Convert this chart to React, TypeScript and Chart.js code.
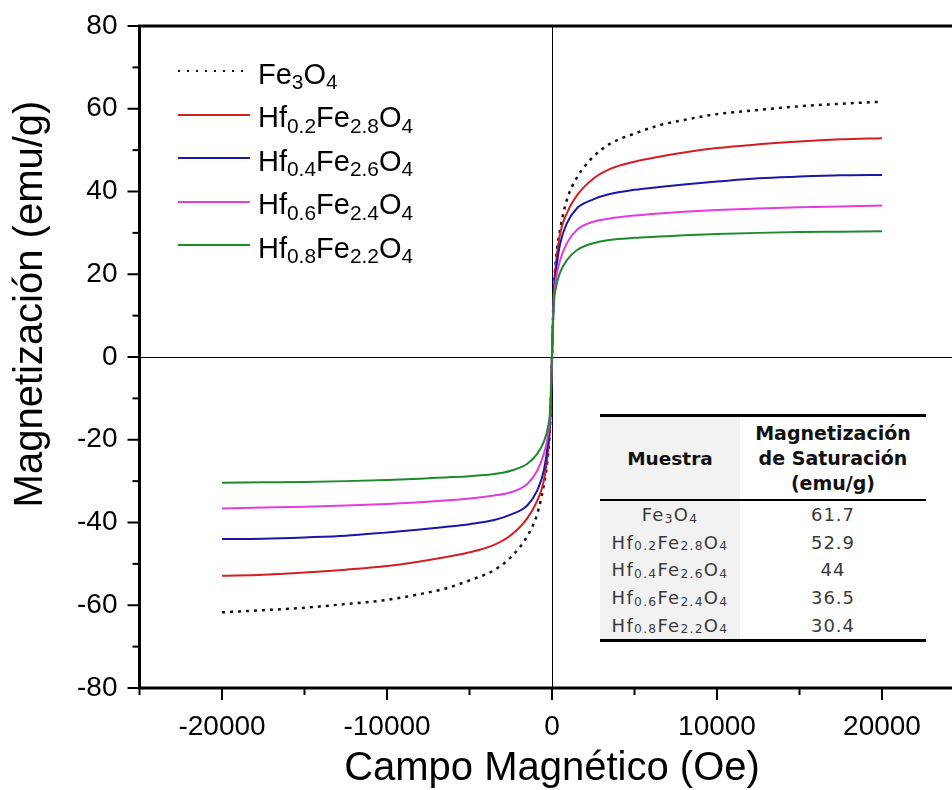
import React, { useEffect, useRef } from 'react';
import { Chart, registerables } from 'chart.js';

Chart.register(...registerables);

// Magnetic field (Oe)
const fieldOe = [
  -20000, -17500, -15000, -12500, -10000, -8000, -6500, -5000, -3500, -2500, -1500, -900, -500, -250, -100,
  0,
  100, 250, 500, 900, 1500, 2500, 3500, 5000, 6500, 8000, 10000, 12500, 15000, 17500, 20000,
];

// Magnetization (emu/g)
const fe3o4 = [
  -61.7, -61.2, -60.6, -59.7, -58.7, -57.3, -56.0, -54.0, -51.5, -48.4, -43.3, -38.0, -31.0, -24.0, -15.0,
  0,
  15.0, 24.0, 31.0, 38.0, 43.3, 48.4, 51.5, 54.0, 56.0, 57.3, 58.7, 59.7, 60.6, 61.2, 61.7,
];
const hf02 = [
  -52.9, -52.6, -52.1, -51.4, -50.5, -49.4, -48.4, -47.2, -45.4, -43.1, -39.0, -34.8, -30.0, -23.0, -15.0,
  0,
  15.0, 23.0, 30.0, 34.8, 39.0, 43.1, 45.4, 47.2, 48.4, 49.4, 50.5, 51.4, 52.1, 52.6, 52.9,
];
const hf04 = [
  -44.0, -43.9, -43.6, -43.2, -42.4, -41.7, -41.1, -40.4, -39.4, -38.1, -35.9, -32.3, -27.5, -21.0, -14.0,
  0,
  14.0, 21.0, 27.5, 32.3, 35.9, 38.1, 39.4, 40.4, 41.1, 41.7, 42.4, 43.2, 43.6, 43.9, 44.0,
];
const hf06 = [
  -36.6, -36.4, -36.2, -35.9, -35.5, -35.1, -34.7, -34.2, -33.5, -32.7, -30.7, -27.5, -23.5, -19.0, -13.0,
  0,
  13.0, 19.0, 23.5, 27.5, 30.7, 32.7, 33.5, 34.2, 34.7, 35.1, 35.5, 35.9, 36.2, 36.4, 36.6,
];
const hf08 = [
  -30.4, -30.3, -30.2, -30.0, -29.7, -29.4, -29.1, -28.8, -28.3, -27.5, -25.8, -23.4, -20.5, -17.0, -12.0,
  0,
  12.0, 17.0, 20.5, 23.4, 25.8, 27.5, 28.3, 28.8, 29.1, 29.4, 29.7, 30.0, 30.2, 30.3, 30.4,
];

const seriesNames = ['Fe3O4', 'Hf0.2Fe2.8O4', 'Hf0.4Fe2.6O4', 'Hf0.6Fe2.4O4', 'Hf0.8Fe2.2O4'];
// formula parts: odd indices are subscripts
const formulaParts = ['Fe|3|O|4', 'Hf|0.2|Fe|2.8|O|4', 'Hf|0.4|Fe|2.6|O|4', 'Hf|0.6|Fe|2.4|O|4', 'Hf|0.8|Fe|2.2|O|4'];
const seriesColors = ['#111111', '#d41e22', '#1a17a6', '#e03ce0', '#1f8a2c'];
const saturationValues = ['61.7', '52.9', '44', '36.5', '30.4'];

const xTickValues = [-20000, -10000, 0, 10000, 20000];
const yTickValues = [-80, -60, -40, -20, 0, 20, 40, 60, 80];
const xMinorStep = 5000;
const yMinorStep = 10;
const xTitle = 'Campo Magnético (Oe)';
const yTitle = 'Magnetización (emu/g)';

const AXIS_FONT = "'Liberation Sans', Arial, sans-serif";
const TABLE_FONT = "'DejaVu Sans', sans-serif";

function Formula({ parts, subSize, subShift }: { parts: string; subSize: string; subShift: string }) {
  return (
    <>
      {parts.split('|').map((p, i) =>
        i % 2 === 1 ? (
          <span key={i} style={{ fontSize: subSize, position: 'relative', top: subShift }}>{p}</span>
        ) : (
          <span key={i}>{p}</span>
        )
      )}
    </>
  );
}

const frameAndTicks = {
  id: 'frameAndTicks',
  afterDraw(chart: any) {
    const { ctx, chartArea: a, scales } = chart;
    const xs = scales.x;
    const ys = scales.y;
    ctx.save();
    ctx.strokeStyle = '#000';
    ctx.lineWidth = 2;
    for (let v = xs.min; v <= xs.max + 1e-6; v += xMinorStep) {
      const px = xs.getPixelForValue(v);
      const len = Math.abs(v % 10000) < 1e-6 ? 12 : 7;
      ctx.beginPath();
      ctx.moveTo(px, a.bottom);
      ctx.lineTo(px, a.bottom + len);
      ctx.stroke();
    }
    for (let v = ys.min; v <= ys.max + 1e-6; v += yMinorStep) {
      const py = ys.getPixelForValue(v);
      const len = Math.abs(v % 20) < 1e-6 ? 12 : 7;
      ctx.beginPath();
      ctx.moveTo(a.left, py);
      ctx.lineTo(a.left - len, py);
      ctx.stroke();
    }
    ctx.lineWidth = 3;
    ctx.strokeRect(a.left, a.top, a.right - a.left, a.bottom - a.top);

    // y-axis title
    ctx.translate(31, 304);
    ctx.rotate(-Math.PI / 2);
    ctx.fillStyle = '#000';
    ctx.font = `40px ${AXIS_FONT}`;
    ctx.textAlign = 'center';
    ctx.textBaseline = 'middle';
    ctx.fillText(yTitle, 0, 0);
    ctx.restore();
  },
};

export default function App() {
  const canvasRef = useRef<HTMLCanvasElement | null>(null);

  useEffect(() => {
    if (!canvasRef.current) return;
    const allSeries = [fe3o4, hf02, hf04, hf06, hf08];
    const datasets = allSeries.map((vals, i) => ({
      label: seriesNames[i],
      data: fieldOe.map((h, k) => ({ x: h, y: vals[k] })),
      borderColor: seriesColors[i],
      backgroundColor: seriesColors[i],
      borderWidth: i === 0 ? 2.5 : 2,
      borderDash: i === 0 ? [3, 5] : [],
      pointRadius: 0,
      cubicInterpolationMode: 'monotone' as const,
      fill: false,
      order: 4 - i,
    }));

    const zeroLine = (c: any) => (c.tick && c.tick.value === 0 ? '#000' : 'rgba(0,0,0,0)');

    const chart = new Chart(canvasRef.current, {
      type: 'line',
      data: { datasets },
      plugins: [frameAndTicks],
      options: {
        animation: false,
        responsive: false,
        maintainAspectRatio: false,
        layout: { padding: { top: 26, right: 15.5, left: 0, bottom: 0 } },
        plugins: { legend: { display: false }, tooltip: { enabled: false } },
        scales: {
          x: {
            type: 'linear',
            min: -25000,
            max: 25000,
            afterBuildTicks: (s: any) => {
              s.ticks = xTickValues.map((v) => ({ value: v }));
            },
            afterFit: (s: any) => {
              s.height = 102;
              s.paddingLeft = 0;
              s.paddingRight = 0;
            },
            grid: { drawTicks: false, color: zeroLine, lineWidth: 1 },
            border: { display: false },
            ticks: {
              padding: 22,
              color: '#000',
              autoSkip: false,
              maxRotation: 0,
              font: { family: AXIS_FONT, size: 28 },
              callback: (v: any) => String(v),
            },
            title: {
              display: true,
              text: xTitle,
              color: '#000',
              font: { family: AXIS_FONT, size: 40, lineHeight: 1 },
              padding: { top: 0, bottom: 1 },
            },
          },
          y: {
            type: 'linear',
            min: -80,
            max: 80,
            afterBuildTicks: (s: any) => {
              s.ticks = yTickValues.map((v) => ({ value: v }));
            },
            afterFit: (s: any) => {
              s.width = 139.5;
              s.paddingTop = 0;
              s.paddingBottom = 0;
            },
            grid: { drawTicks: false, color: zeroLine, lineWidth: 1 },
            border: { display: false },
            ticks: {
              padding: 22,
              color: '#000',
              autoSkip: false,
              font: { family: AXIS_FONT, size: 28 },
              callback: (v: any) => String(v),
            },
            title: { display: false },
          },
        },
      } as any,
    });
    return () => chart.destroy();
  }, []);

  const legendTop = 71;
  const legendStep = 43.5;

  return (
    <div
      style={{
        position: 'absolute',
        left: 0,
        top: 0,
        width: 952,
        height: 790,
        overflow: 'hidden',
        background: '#fff',
      }}
    >
      <canvas ref={canvasRef} width={980} height={790} style={{ display: 'block', width: 980, height: 790 }} />

      {/* Legend */}
      {formulaParts.map((parts, i) => (
        <div
          key={i}
          style={{
            position: 'absolute',
            left: 178,
            top: legendTop + i * legendStep - 20,
            height: 40,
            display: 'flex',
            alignItems: 'center',
            fontFamily: AXIS_FONT,
            fontSize: 29,
            color: '#000',
            whiteSpace: 'nowrap',
          }}
        >
          <svg width={72} height={8} style={{ display: 'block', marginRight: 8 }}>
            <line
              x1={0}
              y1={4}
              x2={72}
              y2={4}
              stroke={seriesColors[i]}
              strokeWidth={2}
              strokeDasharray={i === 0 ? '2 7' : undefined}
            />
          </svg>
          <span style={{ position: 'relative', top: 4, lineHeight: '40px' }}>
            <Formula parts={parts} subSize="0.72em" subShift="0.28em" />
          </span>
        </div>
      ))}

      {/* Inset table */}
      <div
        style={{
          position: 'absolute',
          left: 600,
          top: 414,
          width: 326,
          borderTop: '3px solid #000',
          borderBottom: '3px solid #000',
          fontFamily: TABLE_FONT,
          background: '#fff',
        }}
      >
        <div style={{ display: 'flex', height: 82, borderBottom: '2px solid #000' }}>
          <div
            style={{
              width: 140,
              background: '#f2f2f2',
              display: 'flex',
              alignItems: 'center',
              justifyContent: 'center',
              fontWeight: 'bold',
              fontSize: 18.5,
              color: '#111',
            }}
          >
            Muestra
          </div>
          <div
            style={{
              width: 186,
              display: 'flex',
              flexDirection: 'column',
              alignItems: 'center',
              justifyContent: 'center',
              fontWeight: 'bold',
              fontSize: 19,
              lineHeight: '25px',
              color: '#111',
            }}
          >
            <div>Magnetización</div>
            <div>de Saturación</div>
            <div>(emu/g)</div>
          </div>
        </div>
        {formulaParts.map((parts, i) => (
          <div key={i} style={{ display: 'flex', height: 27.6 }}>
            <div
              style={{
                width: 140,
                background: '#f2f2f2',
                display: 'flex',
                alignItems: 'center',
                justifyContent: 'center',
                fontSize: 18,
                letterSpacing: '1.3px',
                color: '#3a3a3a',
                whiteSpace: 'nowrap',
              }}
            >
              <span>
                <Formula parts={parts} subSize="0.68em" subShift="0.12em" />
              </span>
            </div>
            <div
              style={{
                width: 186,
                display: 'flex',
                alignItems: 'center',
                justifyContent: 'center',
                fontSize: 18,
                letterSpacing: '1px',
                color: '#3a3a3a',
              }}
            >
              {saturationValues[i]}
            </div>
          </div>
        ))}
      </div>
    </div>
  );
}
